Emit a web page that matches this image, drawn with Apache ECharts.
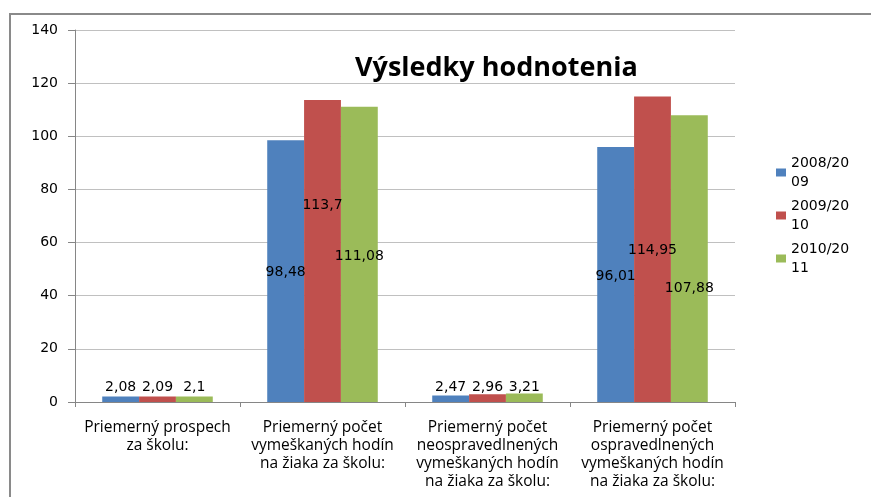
<!DOCTYPE html>
<html>
<head>
<meta charset="utf-8">
<script src="https://cdn.jsdelivr.net/npm/echarts@6/dist/echarts.min.js"></script>
<style>
  html, body { margin: 0; padding: 0; background: #fff; }
  #main { width: 871px; height: 497px; }
</style>
</head>
<body>
<div id="main"></div>
<script>
// data
var categories = [
    'Priemerný prospech\nza školu:',
    'Priemerný počet\nvymeškaných hodín\nna žiaka za školu:',
    'Priemerný počet\nneospravedlnených\nvymeškaných hodín\nna žiaka za školu:',
    'Priemerný počet\nospravedlnených\nvymeškaných hodín\nna žiaka za školu:'
];
var seriesNames = ['2008/2009', '2009/2010', '2010/2011'];
var values2008 = [2.08, 98.48, 2.47, 96.01];
var values2009 = [2.09, 113.7, 2.96, 114.95];
var values2010 = [2.1, 111.08, 3.21, 107.88];
var yTicks = [0, 20, 40, 60, 80, 100, 120, 140];

// label lift above the axis (px), Excel placed them oddly
var lift2008 = [8, 123, 8, 119];
var lift2009 = [8, 190, 8, 145];
var lift2010 = [8, 139, 8, 107];

var colors = ['#4F81BD', '#C0504D', '#9BBB59'];

function makeData(vals, lifts) {
    return vals.map(function (v, i) {
        return { value: v, label: { distance: lifts[i] } };
    });
}

function makeSeries(name, vals, lifts, color) {
    return {
        name: name,
        type: 'bar',
        barGap: '0%',
        barCategoryGap: '33%',
        itemStyle: { color: color },
        label: {
            show: true,
            position: 'insideBottom',
            color: '#000',
            fontFamily: 'DejaVu Sans',
            fontSize: 14,
            formatter: function (p) { return String(p.value).replace('.', ','); }
        },
        data: makeData(vals, lifts)
    };
}

var myChart = echarts.init(document.getElementById('main'));
myChart.setOption({
    animation: false,
    backgroundColor: '#fff',
    title: {
        text: 'Výsledky hodnotenia',
        left: 355,
        top: 55,
        padding: 0,
        textStyle: {
            fontFamily: 'Open Sans',
            fontWeight: 'bold',
            fontSize: 27,
            color: '#000'
        }
    },
    graphic: [{
        type: 'rect',
        shape: { x: 10, y: 14, width: 1000, height: 1000 },
        style: { fill: 'none', stroke: '#8a8a8a', lineWidth: 2 },
        z: -1
    }],
    legend: {
        orient: 'vertical',
        left: 776,
        top: 144,
        padding: 0,
        itemGap: -14,
        itemWidth: 10,
        itemHeight: 8,
        icon: 'rect',
        data: seriesNames,
        formatter: function (name) { return name.slice(0, 7) + '\n' + name.slice(7); },
        textStyle: {
            fontFamily: 'DejaVu Sans',
            fontSize: 14,
            lineHeight: 19,
            color: '#000',
            padding: [19, 0, 0, 0]
        }
    },
    grid: {
        left: 75,
        right: 136,
        top: 30,
        bottom: 95,
        containLabel: false
    },
    xAxis: {
        type: 'category',
        data: categories,
        axisLine: { lineStyle: { color: '#868686' } },
        axisTick: { show: true, length: 5, lineStyle: { color: '#868686' } },
        axisLabel: {
            interval: 0,
            margin: 16,
            color: '#000',
            fontFamily: 'Open Sans',
            fontSize: 15.5,
            lineHeight: 18.3
        },
        splitLine: { show: false }
    },
    yAxis: {
        type: 'value',
        min: yTicks[0],
        max: yTicks[yTicks.length - 1],
        interval: 20,
        axisLine: { show: true, lineStyle: { color: '#868686' } },
        axisTick: { show: true, length: 7, lineStyle: { color: '#868686' } },
        axisLabel: {
            margin: 17,
            color: '#000',
            fontFamily: 'DejaVu Sans',
            fontSize: 14
        },
        splitLine: { lineStyle: { color: '#c0c0c0' } }
    },
    series: [
        makeSeries(seriesNames[0], values2008, lift2008, colors[0]),
        makeSeries(seriesNames[1], values2009, lift2009, colors[1]),
        makeSeries(seriesNames[2], values2010, lift2010, colors[2])
    ]
});
</script>
</body>
</html>
